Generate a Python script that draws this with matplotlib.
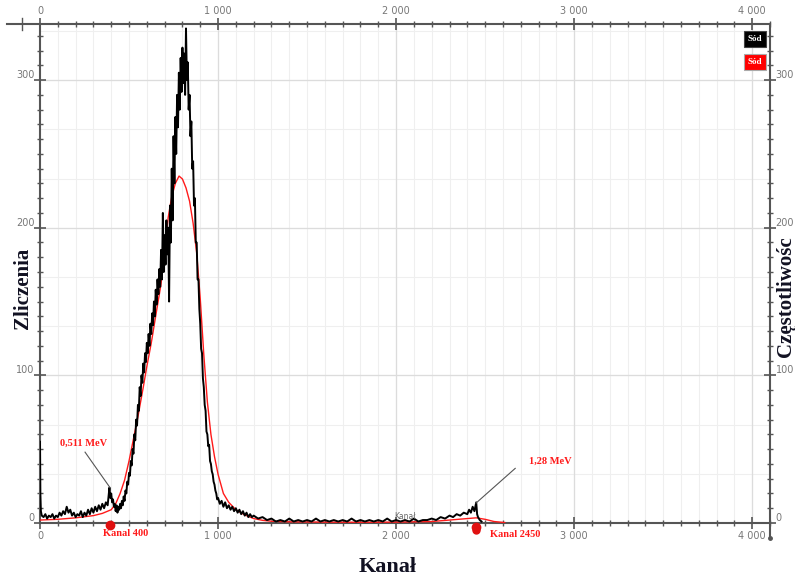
import numpy as np
import matplotlib
matplotlib.use("Agg")
import matplotlib.pyplot as plt
from matplotlib.ticker import MultipleLocator, FuncFormatter

# ---------------- data ----------------
black_ch = [0, 2, 5, 10, 20, 30, 40, 50, 60, 70, 80, 90, 100, 110, 120, 130, 140, 150, 160, 170,
            180, 190, 200, 210, 220, 230, 240, 250, 260, 270, 280, 290, 300, 310, 320, 330, 340, 350,
            360, 370, 380, 385, 390, 395, 400, 405, 410, 415, 420, 425, 430, 435, 440, 445, 450, 455,
            460, 465, 470, 475, 480, 485, 490, 495, 500, 505, 510, 515, 520, 525, 530, 535, 540, 545,
            550, 555, 560, 565, 570, 575, 580, 585, 590, 595, 600, 605, 610, 615, 620, 625, 630, 635,
            640, 645, 650, 655, 660, 665, 670, 675, 680, 685, 690, 695, 700, 705, 710, 715, 720, 725,
            730, 735, 740, 745, 750, 755, 760, 765, 770, 775, 780, 785, 790, 795, 800, 805, 810, 815,
            820, 825, 830, 835, 840, 845, 850, 855, 860, 865, 870, 875, 880, 885, 890, 895, 900, 905,
            910, 915, 920, 925, 930, 935, 940, 945, 950, 955, 960, 965, 970, 975, 980, 985, 990, 995,
            1000, 1010, 1020, 1030, 1040, 1050, 1060, 1070, 1080, 1090, 1100, 1110, 1120, 1130, 1140,
            1150, 1160, 1170, 1180, 1190, 1200, 1225, 1250, 1275, 1300, 1325, 1350, 1375, 1400, 1425,
            1450, 1475, 1500, 1525, 1550, 1575, 1600, 1625, 1650, 1675, 1700, 1725, 1750, 1775, 1800,
            1825, 1850, 1875, 1900, 1925, 1950, 1975, 2000, 2025, 2050, 2075, 2100, 2125, 2150, 2175,
            2200, 2225, 2250, 2275, 2300, 2320, 2340, 2360, 2380, 2400, 2410, 2420, 2430, 2440, 2450,
            2455, 2460, 2470, 2480]
black_counts = [55, 20, 8, 5, 4, 6, 3, 5, 4, 6, 3, 5, 4, 7, 5, 8, 6, 11, 7, 9,
                5, 7, 4, 6, 5, 8, 4, 7, 5, 9, 6, 10, 7, 11, 8, 12, 9, 13,
                10, 14, 12, 18, 24, 17, 20, 14, 16, 11, 13, 8, 12, 7, 11, 9, 13, 10,
                15, 12, 18, 15, 22, 20, 28, 26, 34, 32, 42, 39, 50, 47, 60, 56, 70, 66,
                80, 76, 92, 86, 100, 95, 108, 102, 115, 109, 122, 115, 128, 120, 135, 128, 142, 134,
                150, 140, 158, 148, 165, 155, 172, 160, 185, 165, 210, 170, 195, 175, 205, 182, 200, 150,
                215, 190, 240, 205, 262, 230, 275, 250, 290, 268, 305, 280, 315, 292, 322, 298, 318, 290,
                335, 300, 312, 280, 290, 262, 272, 240, 245, 215, 220, 190, 190, 165, 165, 145, 135, 118,
                115, 98, 92, 80, 76, 62, 60, 52, 53, 42, 40, 35, 33, 28, 26, 22, 20, 16,
                17, 13, 15, 11, 14, 10, 12, 9, 11, 8, 10, 7, 9, 6, 8,
                5, 7, 4, 6, 4, 5, 3, 4, 2, 3, 1, 2, 1, 3, 1,
                2, 1, 2, 1, 3, 1, 2, 1, 2, 1, 2, 1, 3, 1, 2,
                1, 2, 1, 2, 1, 3, 1, 2, 1, 2, 1, 3, 1, 2, 2,
                3, 2, 4, 3, 5, 4, 6, 5, 7, 6, 9, 7, 11, 8, 14,
                6, 4, 2, 1]

red_ch = [0, 100, 200, 300, 350, 400, 425, 450, 475, 500, 525, 550, 580, 600, 625, 655, 680, 700,
          720, 740, 760, 781, 800, 820, 840, 860, 880, 900, 920, 940, 960, 980, 1000, 1030, 1060,
          1100, 1150, 1200, 1250, 1300, 1400, 1600, 1800, 2000, 2200, 2300, 2400, 2450, 2500, 2550, 2610]
red_counts = [2, 2.5, 3.5, 5, 6.5, 9, 13, 20, 29, 42, 57, 72, 92, 106, 122, 144, 162, 186,
              207, 221, 230, 235, 233, 227, 218, 203, 183, 152, 114, 82, 60, 45, 33, 20, 14,
              9, 5.5, 3, 1.8, 1.2, 0.8, 0.6, 0.5, 0.6, 1, 2, 3, 3.5, 2.5, 1, 0.3]

marker_ch = [393, 2450]
marker_y = [-1.5, -3]
marker_text = ["Kanal 400", "Kanal 2450"]
energy_text = ["0,511 MeV", "1,28 MeV"]
energy_peak_ch = [393, 2449]
energy_peak_y = [24, 13.5]

x_ticks = [0, 1000, 2000, 3000, 4000]
y_ticks = [0, 100, 200, 300]

# ---------------- figure ----------------
W, H = 795, 577
fig = plt.figure(figsize=(W / 100, H / 100), dpi=100)
L, R, T, B = 40, 770, 24, 523
ax = fig.add_axes([L / W, 1 - B / H, (R - L) / W, (B - T) / H])
ax.set_xlim(0, 4100)
ax.set_ylim(0, 338)

# grid
for gx in np.arange(100, 4100, 100):
    ax.axvline(gx, color="#efefef", lw=0.8, zorder=0)
for gy in np.arange(100 / 3, 338, 100 / 3):
    ax.axhline(gy, color="#efefef", lw=0.8, zorder=0)
for gx in x_ticks[1:]:
    ax.axvline(gx, color="#dcdcdc", lw=0.9, zorder=0)
for gy in y_ticks[1:]:
    ax.axhline(gy, color="#dcdcdc", lw=0.9, zorder=0)

# series
ax.plot(red_ch, red_counts, color="#ff1a1a", lw=1.0, zorder=3)
ax.plot(black_ch, black_counts, color="black", lw=1.4, zorder=4)

# spines
for s in ax.spines.values():
    s.set_color("#555555")
    s.set_linewidth(1.5)
ax.spines["right"].set_bounds(-10, 338)
ax.spines["top"].set_bounds(-185, 4100)

ax.xaxis.set_major_locator(MultipleLocator(1000))
ax.xaxis.set_minor_locator(MultipleLocator(100))
ax.yaxis.set_major_locator(MultipleLocator(100))
ax.yaxis.set_minor_locator(MultipleLocator(10))
fmt = FuncFormatter(lambda v, p: f"{int(v):,}".replace(",", " "))
ax.xaxis.set_major_formatter(fmt)
ax.tick_params(axis="both", which="both", direction="inout", colors="#555555",
               labelcolor="#777777", labelsize=7, top=True, right=True,
               labeltop=True, labelright=True)
ax.tick_params(which="major", length=8, width=1.2, pad=2)
ax.tick_params(which="minor", length=4, width=1.0)
ax.tick_params(axis="y", which="major", pad=0)
for t in ax.yaxis.get_major_ticks():
    t.label1.set_va("bottom")
    t.label2.set_va("bottom")

# extra tick on top axis left of zero and bottom of right spine
ax.plot([-100, -100], [334, 342], color="#555555", lw=1.0, clip_on=False)
ax.plot([4100], [-10], marker="o", ms=2.5, color="#555555", clip_on=False)

# annotations
red = "#ff1a1a"
ax.plot(marker_ch[0], marker_y[0], "o", color="#e01010", ms=6, clip_on=False, zorder=6)
ax.plot(marker_ch[1], marker_y[1], "o", color="#e01010", ms=6, clip_on=False, zorder=6)
ax.plot(marker_ch[1], marker_y[1] - 1.5, "o", color="#e01010", ms=5, clip_on=False, zorder=6)
ax.text(483, -7.2, marker_text[0], color=red, fontsize=7.5, fontweight="bold",
        family="Liberation Serif", ha="center", va="center", clip_on=False)
ax.text(2669, -7.6, marker_text[1], color=red, fontsize=7.5, fontweight="bold",
        family="Liberation Serif", ha="center", va="center", clip_on=False)
ax.text(242, 54, energy_text[0], color=red, fontsize=7.5, fontweight="bold",
        family="Liberation Serif", ha="center", va="center")
ax.text(2865, 42, energy_text[1], color=red, fontsize=7.5, fontweight="bold",
        family="Liberation Serif", ha="center", va="center")
ax.plot([253, energy_peak_ch[0]], [48, energy_peak_y[0]], color="#555555", lw=0.8, zorder=5)
ax.plot([2669, energy_peak_ch[1]], [37, energy_peak_y[1]], color="#555555", lw=0.8, zorder=5)
ax.text(2050, 4.5, "Kanał", color="#666666", fontsize=5.5, ha="center", va="center", zorder=5)

# legend boxes
ax.text(4015, 328, "Sód", color="white", fontsize=6.5, fontweight="bold",
        family="Liberation Serif", ha="center", va="center",
        bbox=dict(boxstyle="square,pad=0.45", fc="black", ec="#444444", lw=0.8))
ax.text(4015, 312.5, "Sód", color="white", fontsize=6.5, fontweight="bold",
        family="Liberation Serif", ha="center", va="center",
        bbox=dict(boxstyle="square,pad=0.45", fc="#ff0000", ec="#aaaaaa", lw=0.8))

# axis titles
fig.text(388 / W, 1 - 567 / H, "Kanał", fontsize=16, fontweight="bold",
         family="Liberation Serif", color="#111122", ha="center", va="center")
fig.text(23 / W, 1 - 288 / H, "Zliczenia", fontsize=15, fontweight="bold",
         family="Liberation Serif", color="#111122", ha="center", va="center", rotation=90)
fig.text(786 / W, 1 - 297 / H, "Częstotliwośc", fontsize=15, fontweight="bold",
         family="Liberation Serif", color="#111122", ha="center", va="center", rotation=90)

fig.savefig("out.png", dpi=100, facecolor="white")
